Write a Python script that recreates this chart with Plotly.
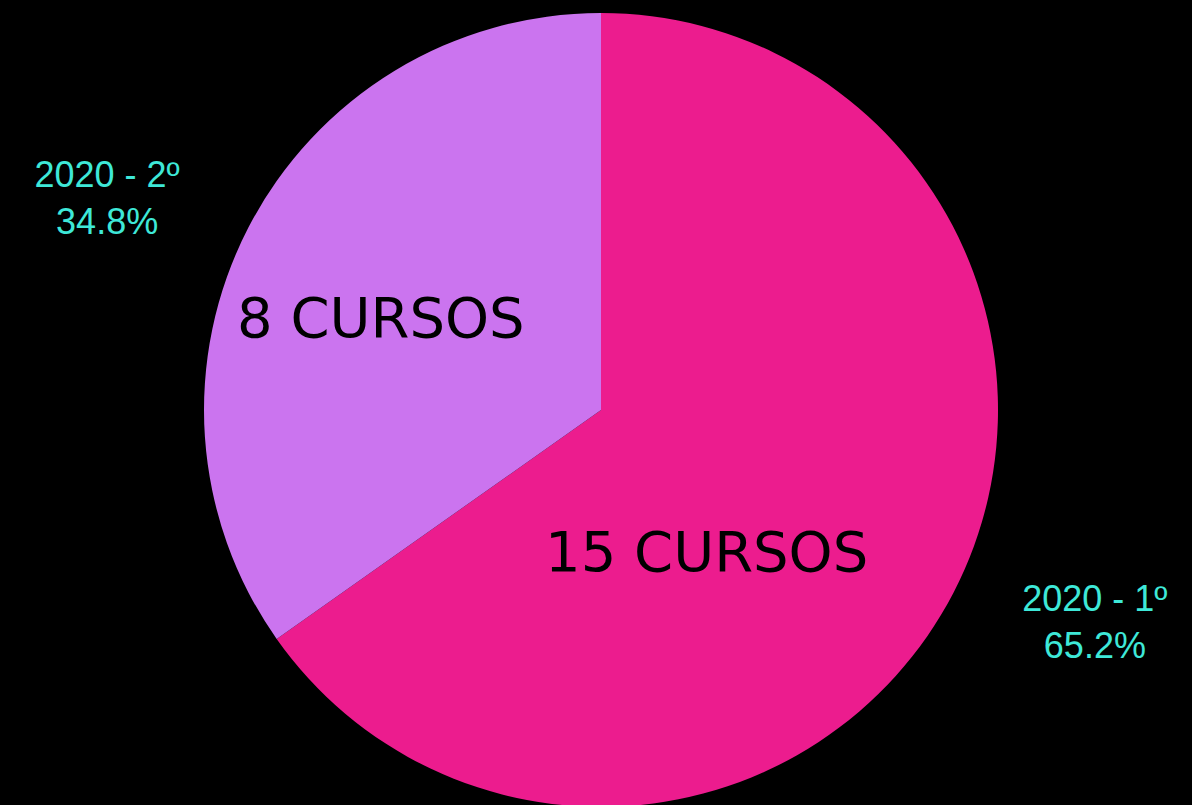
import plotly.graph_objects as go

labels = ["2020 - 1º", "2020 - 2º"]
values = [15, 8]
inner_text = ["15 CURSOS", "8 CURSOS"]
colors = ["#EC1C8E", "#CB74EF"]

fig = go.Figure(
    data=[go.Pie(
        labels=labels,
        values=values,
        sort=False,
        automargin=False,
        marker=dict(colors=colors),
        # blank padding lines push the outside labels a bit further out
        texttemplate="&nbsp;<br>&nbsp;<br>%{label}<br>%{percent}<br>&nbsp;<br>&nbsp;",
        textposition="outside",
        textfont=dict(family="Liberation Sans, Arial", size=36, color="#3EE8D8"),
        showlegend=False,
        hoverinfo="label+value+percent",
    )]
)

# big counts inside the slices
fig.add_annotation(x=0.589, y=0.3224, xref="paper", yref="paper",
                   xanchor="center", yanchor="middle",
                   text=inner_text[0], showarrow=False,
                   font=dict(family="DejaVu Sans", size=56, color="black"))
fig.add_annotation(x=0.314, y=0.6159, xref="paper", yref="paper",
                   xanchor="center", yanchor="middle",
                   text=inner_text[1], showarrow=False,
                   font=dict(family="DejaVu Sans", size=56, color="black"))

fig.update_layout(
    width=1192,
    height=807,
    paper_bgcolor="black",
    plot_bgcolor="black",
    margin=dict(l=10, r=0, t=13, b=0),
)

# black page, no default body margin
page_css = ("document.body.style.margin='0';"
            "document.body.style.background='black';"
            "document.body.style.overflow='hidden';")

fig.write_html("out.html", post_script=page_css,
               config={"displayModeBar": False})
